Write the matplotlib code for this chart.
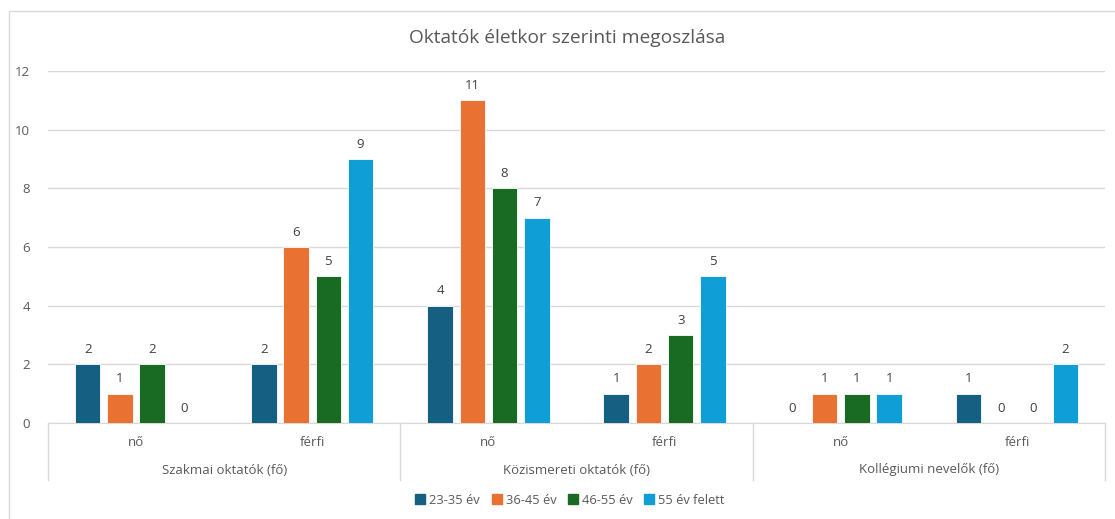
import matplotlib.pyplot as plt
from matplotlib.patches import Rectangle
import numpy as np

plt.rcParams['font.family'] = ['Open Sans', 'DejaVu Sans']

# data
groups = ['Szakmai oktatók (fő)', 'Közismereti oktatók (fő)', 'Kollégiumi nevelők (fő)']
genders = ['nő', 'férfi']
series = ['23-35 év', '36-45 év', '46-55 év', '55 év felett']
age_23_35 = [2, 2, 4, 1, 0, 1]
age_36_45 = [1, 6, 11, 2, 1, 0]
age_46_55 = [2, 5, 8, 3, 1, 0]
age_55_up = [0, 9, 7, 5, 1, 2]
colors = ['#156082', '#E97132', '#196B24', '#0F9ED5']

values = [age_23_35, age_36_45, age_46_55, age_55_up]
text_col = '#595959'
grid_col = '#D9D9D9'

fig = plt.figure(figsize=(11.15, 5.19), dpi=100)
ax = fig.add_axes([48 / 1115, 1 - 423 / 519, (1105 - 48) / 1115, (423 - 71) / 519])

# outer chart border
fig.patches.append(Rectangle((9 / 1115, -0.1), 1.2, 1 - 11 / 519 + 0.1,
                             transform=fig.transFigure, fill=False,
                             edgecolor=grid_col, linewidth=1))

x = np.arange(6)
pitch = 0.183
width = 0.145
for i, (vals, col, name) in enumerate(zip(values, colors, series)):
    off = (i - 1.5) * pitch
    bars = ax.bar(x + off, vals, width, color=col, label=name,
                  edgecolor='white', linewidth=0.6, zorder=3)
    ax.bar_label(bars, padding=6, fontsize=9.5, color='#404040')

ax.set_xlim(-0.5, 5.5)
ax.set_ylim(0, 12)
ax.set_yticks(range(0, 13, 2))
ax.yaxis.grid(True, color=grid_col, linewidth=1)
ax.set_axisbelow(True)
ax.tick_params(axis='y', length=0, pad=13, labelsize=9.5, labelcolor=text_col)
ax.set_xticks([])
for s in ['top', 'right', 'left']:
    ax.spines[s].set_visible(False)
ax.spines['bottom'].set_color(grid_col)

# multi-level category axis
tr = ax.get_xaxis_transform()
for xs in [-0.5, 1.5, 3.5, 5.5]:
    ax.plot([xs, xs], [0, -57 / 352], color=grid_col, linewidth=1,
            transform=tr, clip_on=False)
for i in range(6):
    ax.text(i, -20 / 352, genders[i % 2], transform=tr, ha='center',
            va='center', fontsize=9.5, color=text_col)
for g, name in enumerate(groups):
    ax.text(2 * g + 0.5, -47 / 352, name, transform=tr, ha='center',
            va='center', fontsize=9.5, color=text_col)

fig.text(567 / 1115, 1 - 38 / 519, 'Oktatók életkor szerinti megoszlása',
         ha='center', va='center', fontsize=13.8, color=text_col)

handles = [plt.Line2D([], [], marker='s', linestyle='none', markersize=7,
                      color=c) for c in colors]
fig.legend(handles, series, loc='center', bbox_to_anchor=(568 / 1115, 1 - 500 / 519),
           ncol=4, frameon=False, fontsize=9.3, handletextpad=0.0,
           handlelength=1.4, columnspacing=0.6, labelcolor=text_col)

fig.savefig('out.png', dpi=100)
